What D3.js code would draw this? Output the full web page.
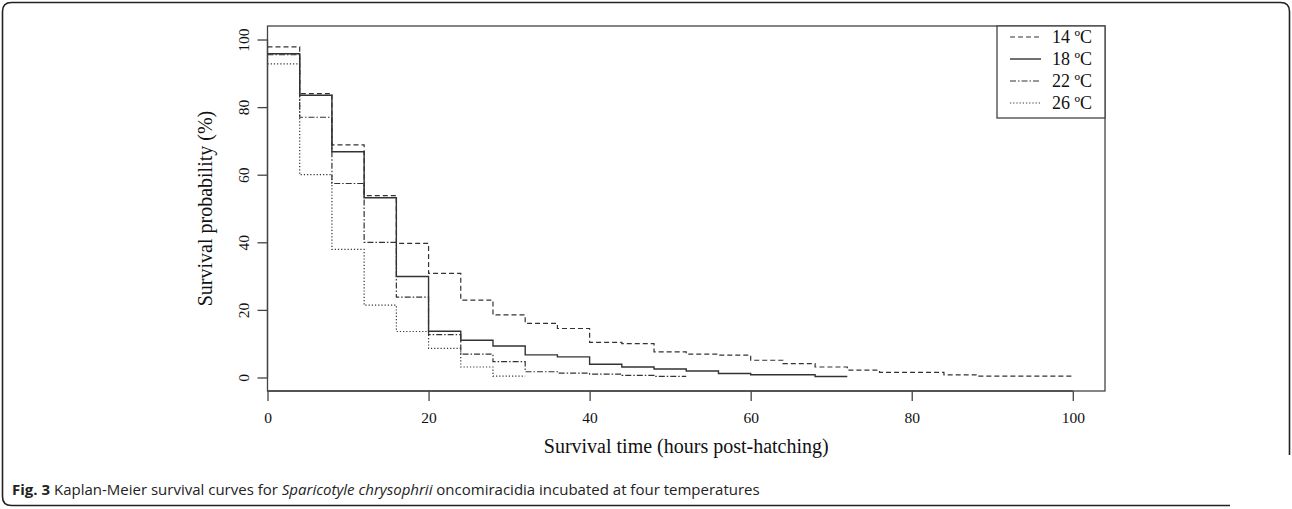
<!DOCTYPE html>
<html>
<head>
<meta charset="utf-8">
<script src="https://cdn.jsdelivr.net/npm/d3@7"></script>
<style>
  body{margin:0;background:#fff;}
  svg{display:block;}
</style>
</head>
<body>
<div id="chart"></div>
<script>
// Kaplan-Meier steps: time (h) where each level starts, survival (%)
const hours14 = [0,4,8,12,16,20,24,28,32,36,40,44,48,52,56,60,64,68,72,76,84,88,100];
const surv14  = [97.8,84.0,68.8,53.8,39.7,30.8,22.9,18.5,16.0,14.5,10.4,10.0,7.6,6.9,6.6,5.1,4.1,3.1,2.2,1.5,0.8,0.4,0.4];

const hours18 = [0,4,8,12,16,20,24,28,32,36,40,44,48,52,56,60,68,72];
const surv18  = [95.8,83.5,66.8,53.2,29.9,13.7,11.0,9.3,6.7,6.1,3.9,3.1,2.5,1.9,1.2,0.8,0.3,0.3];

const hours22 = [0,4,8,12,16,20,24,28,32,36,40,44,48,52];
const surv22  = [95.5,77.0,57.4,40.0,23.8,12.7,6.9,4.7,1.7,1.3,1.0,0.6,0.3,0.3];

const hours26 = [0,4,8,12,16,20,24,28,32];
const surv26  = [92.8,60.0,37.9,21.4,13.6,8.6,3.1,0.4,0.4];

const seriesNames = ["14 ºC","18 ºC","22 ºC","26 ºC"];
const xTicks = [0,20,40,60,80,100];
const yTicks = [0,20,40,60,80,100];

const W = 1292, H = 509;
const plot = {left:267.5, right:1105, top:26, bottom:391};

const svg = d3.select("#chart").append("svg")
    .attr("width",W)
    .attr("height",H);

svg.append("rect").attr("width",W).attr("height",H).attr("fill","#fff");

// outer figure frame (open at the bottom right)
const r = 9;
svg.append("path")
    .attr("d",`M1230,505.5 L${2.5+r},505.5 Q2.5,505.5 2.5,${505.5-r} L2.5,${2.5+r} Q2.5,2.5 ${2.5+r},2.5 L${1289.5-r},2.5 Q1289.5,2.5 1289.5,${2.5+r} L1289.5,455`)
    .attr("fill","none")
    .attr("stroke","#222")
    .attr("stroke-width",1.6);

const x = d3.scaleLinear().domain([0,104]).range([plot.left,plot.right]);
const y = d3.scaleLinear().domain([-4,104]).range([plot.bottom,plot.top]);

const axisColor = "#444";
const serif = "'Liberation Serif','Times New Roman',serif";

// box
svg.append("rect")
    .attr("x",plot.left).attr("y",plot.top)
    .attr("width",plot.right-plot.left).attr("height",plot.bottom-plot.top)
    .attr("fill","none").attr("stroke",axisColor).attr("stroke-width",1.3);

// x axis
const gx = svg.append("g")
    .attr("transform",`translate(0,${plot.bottom})`)
    .call(d3.axisBottom(x).tickValues(xTicks).tickSize(10).tickPadding(11));
gx.select(".domain").attr("d",`M${x(0)},0H${x(100)}`).attr("stroke",axisColor).attr("stroke-width",1.3);
gx.selectAll(".tick line").attr("stroke",axisColor).attr("stroke-width",1.3);
gx.selectAll(".tick text").attr("font-family",serif).attr("font-size",15.5).attr("fill","#111");

// y axis (labels rotated like R's las=0)
const gy = svg.append("g")
    .attr("transform",`translate(${plot.left},0)`)
    .call(d3.axisLeft(y).tickValues(yTicks).tickSize(10).tickPadding(0));
gy.select(".domain").attr("d",`M0,${y(0)}V${y(100)}`).attr("stroke",axisColor).attr("stroke-width",1.3);
gy.selectAll(".tick line").attr("stroke",axisColor).attr("stroke-width",1.3);
gy.selectAll(".tick text")
    .attr("font-family",serif).attr("font-size",15.5).attr("fill","#111")
    .attr("x",null).attr("dy",null)
    .attr("text-anchor","middle")
    .attr("transform","translate(-24,0) rotate(-90)")
    .attr("dy","0.35em");

// axis titles
svg.append("text")
    .attr("x",(plot.left+plot.right)/2).attr("y",453)
    .attr("text-anchor","middle")
    .attr("font-family",serif).attr("font-size",20).attr("fill","#111")
    .text("Survival time (hours post-hatching)");

svg.append("text")
    .attr("transform",`translate(212,${(plot.top+plot.bottom)/2}) rotate(-90)`)
    .attr("text-anchor","middle")
    .attr("font-family",serif).attr("font-size",20).attr("fill","#111")
    .text("Survival probability (%)");

// curves
const styles = [
    {dash:"5,3", width:1.2},
    {dash:null, width:1.4},
    {dash:"6,2,1.5,2", width:1.2},
    {dash:"1.2,2", width:1.2}
];
const curves = [
    d3.zip(hours14,surv14),
    d3.zip(hours18,surv18),
    d3.zip(hours22,surv22),
    d3.zip(hours26,surv26)
];

const line = d3.line()
    .x(d=>x(d[0]))
    .y(d=>y(d[1]))
    .curve(d3.curveStepAfter);

curves.forEach((pts,i)=>{
    svg.append("path")
        .attr("d",line(pts))
        .attr("fill","none")
        .attr("stroke","#333")
        .attr("stroke-width",styles[i].width)
        .attr("stroke-dasharray",styles[i].dash);
});

// legend
const lg = svg.append("g");
lg.append("rect")
    .attr("x",997).attr("y",plot.top)
    .attr("width",plot.right-997).attr("height",92)
    .attr("fill","#fff").attr("stroke",axisColor).attr("stroke-width",1.3);

seriesNames.forEach((name,i)=>{
    const yy = 37 + i*22;
    lg.append("line")
        .attr("x1",1010).attr("x2",1041)
        .attr("y1",yy).attr("y2",yy)
        .attr("stroke","#333")
        .attr("stroke-width",styles[i].width)
        .attr("stroke-dasharray",styles[i].dash);
    lg.append("text")
        .attr("x",1052).attr("y",yy)
        .attr("dy","0.35em")
        .attr("font-family",serif).attr("font-size",18).attr("fill","#111")
        .text(name);
});

// caption
const cap = svg.append("text")
    .attr("x",12).attr("y",495)
    .attr("font-family","'Open Sans','Noto Sans',sans-serif")
    .attr("font-size",15).attr("fill","#222");
cap.append("tspan").attr("font-weight","bold").text("Fig. 3");
cap.append("tspan").text(" Kaplan-Meier survival curves for ");
cap.append("tspan").attr("font-style","italic").text("Sparicotyle chrysophrii");
cap.append("tspan").text(" oncomiracidia incubated at four temperatures");
</script>
</body>
</html>
